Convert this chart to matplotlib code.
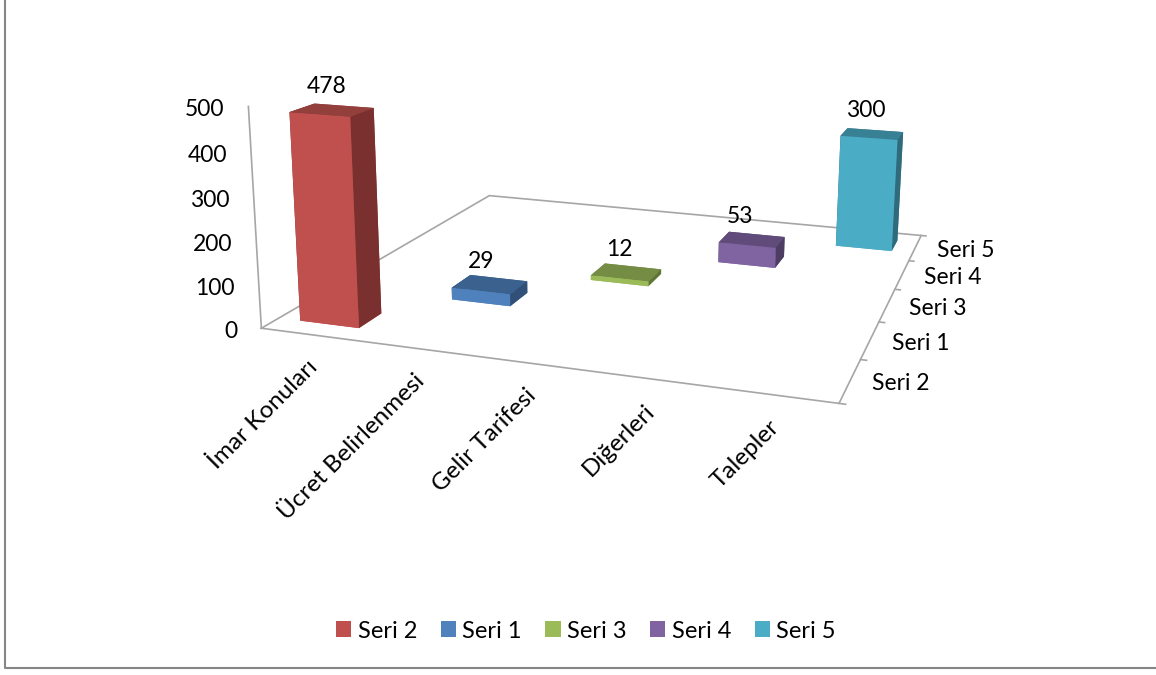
import numpy as np
import matplotlib
matplotlib.use('Agg')
import matplotlib.pyplot as plt
from matplotlib.lines import Line2D
from matplotlib.patches import Patch
from mpl_toolkits.mplot3d import proj3d

plt.rcParams['font.family'] = ['Lato', 'DejaVu Sans']

categories = ['İmar Konuları', 'Ücret Belirlenmesi', 'Gelir Tarifesi', 'Diğerleri', 'Talepler']
series_names = ['Seri 2', 'Seri 1', 'Seri 3', 'Seri 4', 'Seri 5']
values = [478, 29, 12, 53, 300]
value_ticks = [0, 100, 200, 300, 400, 500]

front_colors = ['#C0504D', '#4F81BD', '#9BBB59', '#8064A2', '#4BACC6']
top_colors = ['#93403D', '#3B618E', '#748C43', '#604B7A', '#388094']
side_colors = ['#7A302E', '#305078', '#5F7437', '#4E3D63', '#2F6B7C']

axis_color = '#A6A6A6'
font_size = 16.5

W, H = 1156, 675

# camera fitted against the floor corners and bar corners of the picture
ELEV, AZIM, ROLL, FOCAL = 13.8509, -71.5803, -0.3392, 0.3577
BOX = (1, 0.9669, 0.3882)
BAR_W, BAR_D = 0.5760, 0.4196
SCALE, SHIFT_X, SHIFT_Y = 4006.19, 626.80, 179.00

# excel does not centre its data labels exactly over the bars
label_dx = [-5, -9, -7, -12, -6]


def place_axes(ax):
    # put the 3d axes so projected coordinates land on the wanted pixels
    tl = ax.transLimits.transform([(0, 0), (1, 1)])
    sx, sy = tl[1] - tl[0]
    w, h = SCALE / sx, SCALE / sy
    left = SHIFT_X - w * tl[0][0]
    bottom = H - SHIFT_Y - h * tl[0][1]
    ax.set_position([left / W, bottom / H, w / W, h / H])


def axis_line(ax, xs, ys, zs):
    ax.plot(xs, ys, zs, color=axis_color, lw=1.2, clip_on=False, zorder=1)


def label(ax, x, y, z, text, offset, size=font_size, **kwargs):
    # text anchored on a 3d point, shifted by some pixels
    px, py, _ = proj3d.proj_transform(x, y, z, ax.get_proj())
    ax.annotate(text, xy=(px, py), xycoords='data', xytext=offset, textcoords='offset pixels',
                fontsize=size, color='black', annotation_clip=False, **kwargs)


fig = plt.figure(figsize=(W / 100, H / 100), dpi=100)
ax = fig.add_subplot(projection='3d', computed_zorder=False)
ax.set_xlim(0, 5)
ax.set_ylim(0, 5)
ax.set_zlim(0, 500)
ax.view_init(ELEV, AZIM, ROLL)
ax.set_box_aspect(BOX)
ax.set_proj_type('persp', focal_length=FOCAL)
ax.set_axis_off()
ax.patch.set_alpha(0)
place_axes(ax)

# floor outline and the value axis
axis_line(ax, [0, 5, 5, 0, 0], [0, 0, 5, 5, 0], [0, 0, 0, 0, 0])
axis_line(ax, [0, 0], [0, 0], [0, 500])
for k in range(len(series_names) + 1):
    axis_line(ax, [5, 5.05], [k, k], [0, 0])

for i, value in enumerate(values):
    c = i + 0.5
    faces = [front_colors[i], top_colors[i], front_colors[i], top_colors[i], side_colors[i], side_colors[i]]
    bars = ax.bar3d([c - BAR_W / 2], [c - BAR_D / 2], [0], [BAR_W], [BAR_D], [value],
                    color=faces, shade=False, linewidth=0, zorder=2 + i)
    bars.set_clip_on(False)
    label(ax, c, c, value, str(value), (label_dx[i], 23), ha='center', va='center')

for v in value_ticks:
    label(ax, 0, 0, v, str(v), (-24, -3), ha='right', va='center')

for i, name in enumerate(categories):
    label(ax, i + 0.5, 0, 0, name, (2, -29), size=17.5, rotation=45, rotation_mode='anchor',
          ha='right', va='center')

for k, name in enumerate(series_names):
    label(ax, 5, k + 0.5, 0, name, (21.5, -3), ha='left', va='center')

handles = [Patch(facecolor=c, edgecolor='none') for c in front_colors]
fig.legend(handles, series_names, loc='center', bbox_to_anchor=(586 / W, 1 - 631 / H), ncol=5, frameon=False,
           fontsize=17, handlelength=0.64, handleheight=0.64, handletextpad=0.27, columnspacing=1.0)

# chart area border, only left and bottom are inside the picture
fig.add_artist(Line2D([5 / W, 5 / W, 1], [1, 1 - 668 / H, 1 - 668 / H], color='#868686', lw=1.5))

fig.savefig('out.png', dpi=100)
